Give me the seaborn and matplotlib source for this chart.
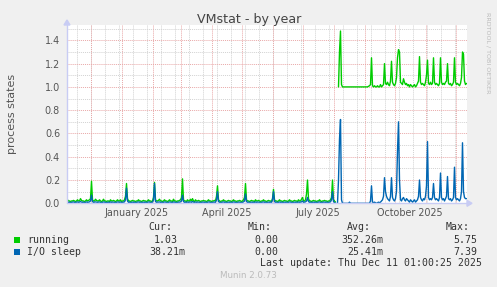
import numpy as np
import pandas as pd
import matplotlib
matplotlib.use("Agg")
import matplotlib.pyplot as plt
from matplotlib.lines import Line2D
from matplotlib.patches import Polygon, Rectangle
import seaborn as sns

# ---------------- data (daily, starting at start_date) ----------------
start_date = "2024-11-07"

running_p1 = [
    0.03, 0.02, 0.02, 0.015, 0.02, 0.02, 0.025, 0.02, 0.015, 0.02, 0.03, 0.02, 0.02, 0.04, 0.025, 0.02, 0.02, 0.015, 0.02, 0.03,
    0.02, 0.025, 0.03, 0.04, 0.19, 0.03, 0.02, 0.02, 0.035, 0.025, 0.02, 0.02, 0.03, 0.02, 0.015, 0.02, 0.035, 0.02, 0.02, 0.015,
    0.02, 0.02, 0.015, 0.03, 0.02, 0.02, 0.025, 0.02, 0.015, 0.02, 0.03, 0.02, 0.02, 0.03, 0.015, 0.02, 0.02, 0.03, 0.06, 0.17,
    0.04, 0.02, 0.02, 0.015, 0.02, 0.025, 0.02, 0.02, 0.015, 0.02, 0.02, 0.03, 0.02, 0.02, 0.015, 0.02, 0.025, 0.02, 0.02, 0.015,
    0.02, 0.03, 0.02, 0.02, 0.015, 0.02, 0.05, 0.18, 0.03, 0.02, 0.02, 0.025, 0.035, 0.02, 0.02, 0.015, 0.02, 0.03, 0.02, 0.02,
    0.015, 0.02, 0.03, 0.02, 0.02, 0.015, 0.035, 0.02, 0.02, 0.015, 0.02, 0.02, 0.025, 0.03, 0.05, 0.21, 0.03, 0.02, 0.02, 0.015,
    0.03, 0.02, 0.02, 0.035, 0.02, 0.04, 0.02, 0.015, 0.03, 0.02, 0.02, 0.025, 0.02, 0.015, 0.02, 0.02, 0.025, 0.02, 0.02, 0.015,
    0.02, 0.03, 0.02, 0.02, 0.015, 0.02, 0.02, 0.025, 0.02, 0.06, 0.15, 0.03, 0.02, 0.015, 0.02, 0.02, 0.03, 0.02, 0.02, 0.015,
    0.02, 0.025, 0.02, 0.02, 0.015, 0.02, 0.03, 0.02, 0.02, 0.015, 0.02, 0.02, 0.025, 0.02, 0.015, 0.02, 0.03, 0.05, 0.17, 0.03,
    0.02, 0.02, 0.015, 0.02, 0.025, 0.02, 0.02, 0.015, 0.03, 0.02, 0.02, 0.025, 0.02, 0.015, 0.02, 0.02, 0.03, 0.02, 0.02, 0.015,
    0.02, 0.025, 0.02, 0.02, 0.015, 0.04, 0.12, 0.03, 0.02, 0.02, 0.015, 0.02, 0.03, 0.02, 0.02, 0.015, 0.02, 0.025, 0.02, 0.02,
    0.015, 0.02, 0.03, 0.02, 0.02, 0.015, 0.02, 0.025, 0.02, 0.02, 0.015, 0.03, 0.02, 0.02, 0.035, 0.05, 0.02, 0.02, 0.03, 0.08,
    0.2, 0.04, 0.02, 0.02, 0.015, 0.02, 0.025, 0.02, 0.02, 0.015, 0.02, 0.02, 0.03, 0.02, 0.015, 0.02, 0.02, 0.025, 0.02, 0.02,
    0.015, 0.02, 0.02, 0.03, 0.05, 0.2, 0.03, 0.02, 0.01,
]
io_sleep_p1 = [
    0.01, 0.008, 0.01, 0.006, 0.008, 0.01, 0.012, 0.008, 0.006, 0.01, 0.012, 0.008, 0.01, 0.015, 0.01, 0.008, 0.01, 0.006, 0.008, 0.012,
    0.008, 0.01, 0.012, 0.02, 0.07, 0.015, 0.008, 0.01, 0.012, 0.01, 0.008, 0.01, 0.012, 0.008, 0.006, 0.008, 0.012, 0.01, 0.008, 0.006,
    0.008, 0.01, 0.006, 0.012, 0.008, 0.01, 0.01, 0.008, 0.006, 0.008, 0.012, 0.01, 0.008, 0.012, 0.006, 0.008, 0.01, 0.012, 0.03, 0.13,
    0.02, 0.008, 0.01, 0.006, 0.008, 0.01, 0.008, 0.01, 0.006, 0.008, 0.01, 0.012, 0.008, 0.01, 0.006, 0.008, 0.01, 0.008, 0.01, 0.006,
    0.008, 0.012, 0.01, 0.008, 0.006, 0.01, 0.03, 0.17, 0.015, 0.008, 0.01, 0.01, 0.012, 0.008, 0.01, 0.006, 0.008, 0.012, 0.01, 0.008,
    0.006, 0.008, 0.012, 0.01, 0.008, 0.006, 0.012, 0.01, 0.008, 0.006, 0.008, 0.01, 0.01, 0.012, 0.02, 0.07, 0.015, 0.008, 0.01, 0.006,
    0.012, 0.008, 0.01, 0.012, 0.008, 0.015, 0.01, 0.006, 0.012, 0.008, 0.01, 0.01, 0.008, 0.006, 0.008, 0.01, 0.01, 0.008, 0.01, 0.006,
    0.008, 0.012, 0.01, 0.008, 0.006, 0.008, 0.01, 0.01, 0.008, 0.03, 0.1, 0.015, 0.008, 0.006, 0.008, 0.01, 0.012, 0.008, 0.01, 0.006,
    0.008, 0.01, 0.008, 0.01, 0.006, 0.008, 0.012, 0.01, 0.008, 0.006, 0.008, 0.01, 0.01, 0.008, 0.006, 0.008, 0.012, 0.02, 0.08, 0.015,
    0.008, 0.01, 0.006, 0.008, 0.01, 0.008, 0.01, 0.006, 0.012, 0.008, 0.01, 0.01, 0.008, 0.006, 0.008, 0.01, 0.012, 0.008, 0.01, 0.006,
    0.008, 0.01, 0.008, 0.01, 0.006, 0.03, 0.1, 0.015, 0.008, 0.01, 0.006, 0.008, 0.012, 0.008, 0.01, 0.006, 0.008, 0.01, 0.008, 0.01,
    0.006, 0.008, 0.012, 0.01, 0.008, 0.006, 0.008, 0.01, 0.008, 0.01, 0.006, 0.012, 0.008, 0.01, 0.012, 0.02, 0.008, 0.01, 0.012, 0.02,
    0.05, 0.015, 0.008, 0.01, 0.006, 0.008, 0.01, 0.008, 0.01, 0.006, 0.008, 0.01, 0.012, 0.008, 0.006, 0.008, 0.01, 0.01, 0.008, 0.01,
    0.006, 0.008, 0.01, 0.012, 0.03, 0.1, 0.015, 0.005, 0.002,
]
running_p2 = [
    np.nan, np.nan, 1.0, 1.3, 1.48, 1.02,
    1.0, 1.0, 1.0, 1.0, 1.0, 1.0, 1.0, 1.0, 1.0, 1.0, 1.0, 1.0, 1.0, 1.0,
    1.0, 1.0, 1.0, 1.0, 1.0, 1.0, 1.0, 1.0, 1.0, 1.0, 1.0, 1.0, 1.005, 1.01,
    1.02, 1.25, 1.01,
    1.0, 1.01, 1.0, 1.0, 1.01, 1.0, 1.0, 1.02, 1.0, 1.01, 1.02,
    1.2, 1.03, 1.02, 1.04, 1.02, 1.01, 1.05, 1.22, 1.04, 1.02, 1.01, 1.03, 1.08, 1.25, 1.32, 1.3,
    1.04, 1.03, 1.02, 1.07, 1.04, 1.02, 1.03, 1.01, 1.02, 1.0, 1.02, 1.01, 1.0, 1.01, 1.02, 1.0, 1.01, 1.03, 1.05,
    1.26, 1.04, 1.02, 1.03, 1.02, 1.01, 1.04, 1.1, 1.23, 1.03, 1.02, 1.04, 1.02, 1.03, 1.25, 1.04, 1.02, 1.03,
    1.02, 1.01, 1.03, 1.25, 1.04, 1.02, 1.03, 1.02, 1.04, 1.05, 1.2, 1.03, 1.02, 1.03, 1.01, 1.02, 1.04, 1.25,
    1.04, 1.02, 1.03, 1.02, 1.01, 1.03, 1.08, 1.3, 1.28, 1.05, 1.02, 1.03,
]
io_sleep_p2 = [
    np.nan, 0.0, 0.2, 0.55, 0.72, 0.03,
    0.0, 0.0, 0.0, 0.0, 0.0, 0.0, 0.0, 0.01, 0.0, 0.0, 0.0, 0.0, 0.0, 0.0,
    0.0, 0.0, 0.0, 0.0, 0.0, 0.0, 0.0, 0.0, 0.0, 0.0, 0.0, 0.0, 0.0, 0.0,
    0.02, 0.15, 0.01,
    0.005, 0.01, 0.005, 0.0, 0.005, 0.01, 0.005, 0.01, 0.02, 0.03, 0.06,
    0.22, 0.1, 0.06, 0.04, 0.03, 0.02, 0.06, 0.22, 0.05, 0.03, 0.02, 0.04, 0.1, 0.45, 0.7, 0.2,
    0.03, 0.02, 0.04, 0.05, 0.03, 0.02, 0.04, 0.03, 0.02, 0.01, 0.03, 0.02, 0.01, 0.02, 0.03, 0.01, 0.02, 0.03, 0.06,
    0.2, 0.05, 0.03, 0.02, 0.04, 0.03, 0.06, 0.15, 0.53, 0.05, 0.03, 0.04, 0.03, 0.05, 0.17, 0.05, 0.03, 0.04,
    0.03, 0.02, 0.05, 0.26, 0.05, 0.03, 0.04, 0.02, 0.04, 0.06, 0.23, 0.04, 0.03, 0.04, 0.02, 0.03, 0.05, 0.31,
    0.05, 0.03, 0.04, 0.03, 0.02, 0.04, 0.1, 0.52, 0.1, 0.05, 0.04, 0.04,
]

series_names = ["running", "I/O sleep"]
series_colors = ["#00CC00", "#0066B3"]
y_ticks = [0.0, 0.2, 0.4, 0.6, 0.8, 1.0, 1.2, 1.4]
y_tick_labels = ["0.0", "0.2", "0.4", "0.6", "0.8", "1.0", "1.2", "1.4"]
month_labels = ["January 2025", "April 2025", "July 2025", "October 2025"]
month_label_dates = ["2025-01-15", "2025-04-16", "2025-07-16", "2025-10-16"]
legend_cur = ["1.03", "38.21m"]
legend_min = ["0.00", "0.00"]
legend_avg = ["352.26m", "25.41m"]
legend_max = ["5.75", "7.39"]
title = "VMstat - by year"
y_label = "process states"
last_update = "Last update: Thu Dec 11 01:00:25 2025"
footer = "Munin 2.0.73"
side_text = "RRDTOOL / TOBI OETIKER"

# ---------------- build frame ----------------
running = running_p1 + running_p2
io_sleep = io_sleep_p1 + io_sleep_p2
n = len(running)
assert n == len(io_sleep) == 400, (len(running), len(io_sleep))
dates = pd.date_range(start_date, periods=n, freq="D") + pd.Timedelta(hours=12)
seg = np.where(np.arange(n) < len(running_p1), 0, 1)
df = pd.concat([
    pd.DataFrame({"date": dates, "value": running, "series": series_names[0], "seg": seg}),
    pd.DataFrame({"date": dates, "value": io_sleep, "series": series_names[1], "seg": seg}),
]).dropna()

# ---------------- figure ----------------
W, H = 497, 287
sns.set_style("white")
plt.rcParams["font.family"] = ["DejaVu Sans"]
fig = plt.figure(figsize=(W / 100, H / 100), dpi=100, facecolor="#F0F0F0")

def fx(px):
    return px / W

def fy(py):
    return 1 - py / H

x0, x1 = 67, 467
y_zero, px_per_unit = 203.3, 116.4
ymax = 1.53
ytop = y_zero - ymax * px_per_unit
ax = fig.add_axes([fx(x0), fy(y_zero), (x1 - x0) / W, (y_zero - ytop) / H])
ax.set_facecolor("white")

xstart = pd.Timestamp(start_date)
xend = xstart + pd.Timedelta(days=400)
ax.set_xlim(xstart, xend)
ax.set_ylim(0, ymax)

# grid
minor_col = "#D2D2D2"
major_col = "#E9A8A8"
dot = (0, (1, 1))
for v in np.arange(0.1, 1.55, 0.2):
    ax.axhline(v, color=minor_col, lw=0.7, ls=dot, zorder=0)
for d in pd.date_range("2024-11-17", xend, freq="14D"):
    ax.axvline(d, color=minor_col, lw=0.7, ls=dot, zorder=0)
for v in y_ticks[1:]:
    ax.axhline(v, color=major_col, lw=0.7, ls=dot, zorder=1)
for d in pd.date_range("2024-12-01", xend, freq="MS"):
    ax.axvline(d, color=major_col, lw=0.7, ls=dot, zorder=1)

# data
sns.lineplot(data=df, x="date", y="value", hue="series", units="seg", estimator=None,
             palette=dict(zip(series_names, series_colors)), hue_order=series_names,
             linewidth=1.0, ax=ax, legend=False, zorder=3)

for s in ax.spines.values():
    s.set_visible(False)
ax.set_xlabel("")
ax.set_ylabel("")
ax.set_yticks(y_ticks)
ax.set_yticklabels(y_tick_labels)
ax.set_xticks(pd.to_datetime(month_label_dates))
ax.set_xticklabels(month_labels)
ax.tick_params(axis="both", length=0, labelsize=6.9, colors="#555555")
ax.tick_params(axis="y", pad=5)
ax.tick_params(axis="x", pad=3.5)

# axis lines with arrows (rrdtool style)
axis_col = "#C8CCF4"
fig.add_artist(Line2D([fx(x0), fx(470)], [fy(y_zero), fy(y_zero)], color=axis_col, lw=1.0))
fig.add_artist(Line2D([fx(x0), fx(x0)], [fy(y_zero), fy(23)], color=axis_col, lw=1.0))
fig.add_artist(Polygon([[fx(467), fy(y_zero - 3)], [fx(472), fy(y_zero)], [fx(467), fy(y_zero + 3)]],
                       closed=True, color=axis_col, transform=fig.transFigure))
fig.add_artist(Polygon([[fx(x0 - 3), fy(25)], [fx(x0), fy(20)], [fx(x0 + 3), fy(25)]],
                       closed=True, color=axis_col, transform=fig.transFigure))

# texts
fig.text(fx(249), fy(19), title, ha="center", va="center", fontsize=9.1, color="#444444")
fig.text(fx(12), fy(114), y_label, ha="center", va="center", rotation=90, fontsize=8, color="#555555")
fig.text(fx(488), fy(53), side_text, ha="center", va="center", rotation=270, fontsize=4.6, color="#BBBBBB")

mono = {"family": "DejaVu Sans Mono", "size": 7.1, "color": "#333333"}
hy = 227
for txt, rx in zip(["Cur:", "Min:", "Avg:", "Max:"], [172, 272, 371, 470]):
    fig.text(fx(rx), fy(hy), txt, ha="right", va="center", **mono)
rows_y = [240, 252]
for i in range(2):
    y = rows_y[i]
    fig.add_artist(Rectangle((fx(14), fy(y + 3)), 6 / W, 6 / H, transform=fig.transFigure,
                             facecolor=series_colors[i], edgecolor="none"))
    fig.text(fx(27), fy(y), series_names[i], ha="left", va="center", **mono)
    fig.text(fx(178 if not legend_cur[i].endswith("m") else 185), fy(y), legend_cur[i], ha="right", va="center", **mono)
    fig.text(fx(278 if not legend_min[i].endswith("m") else 284), fy(y), legend_min[i], ha="right", va="center", **mono)
    fig.text(fx(377 if not legend_avg[i].endswith("m") else 383), fy(y), legend_avg[i], ha="right", va="center", **mono)
    fig.text(fx(477 if not legend_max[i].endswith("m") else 483), fy(y), legend_max[i], ha="right", va="center", **mono)
fig.text(fx(482), fy(263), last_update, ha="right", va="center", **mono)
fig.text(fx(248), fy(276), footer, ha="center", va="center", fontsize=6.3, color="#BBBBBB")

fig.savefig("out.png", dpi=100, facecolor=fig.get_facecolor())
